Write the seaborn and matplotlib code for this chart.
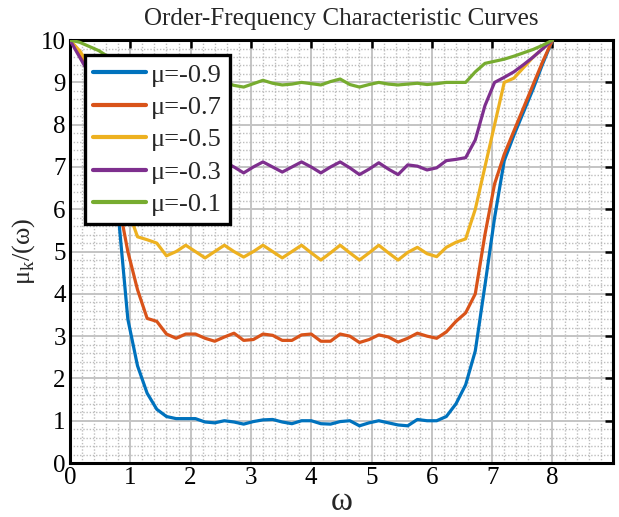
import numpy as np
import pandas as pd
import matplotlib
matplotlib.use("Agg")
import matplotlib.pyplot as plt
from matplotlib.ticker import MultipleLocator
import seaborn as sns

# frequency grid (step 0.16 from 0 to 8)
omega = np.round(np.arange(51) * 0.16, 2)

mu_labels = ["μ=-0.9", "μ=-0.7", "μ=-0.5", "μ=-0.3", "μ=-0.1"]
colors = ["#0072BD", "#D95319", "#EDB120", "#7E2F8E", "#77AC30"]

order_m09 = [10, 9.7, 9.2, 8.5, 7.5, 5.9, 3.4, 2.3, 1.65, 1.27, 1.1,
             1.05, 1.05, 1.05, 0.97, 0.95, 1.0, 0.97, 0.92, 0.98, 1.02,
             1.03, 0.97, 0.93, 1.0, 1.0, 0.93, 0.92, 0.98, 1.0, 0.88,
             0.95, 1.0, 0.95, 0.9, 0.88, 1.03, 1.0, 1.0, 1.1, 1.4,
             1.85, 2.65, 4.2, 5.8, 7.15, 7.75, 8.3, 8.85, 9.45, 10]
order_m07 = [10, 9.7, 9.2, 8.6, 7.8, 6.2, 5.0, 4.1, 3.42, 3.35, 3.05,
             2.95, 3.05, 3.05, 2.95, 2.88, 2.98, 3.07, 2.9, 2.92, 3.05,
             3.02, 2.9, 2.9, 3.03, 3.05, 2.88, 2.88, 3.05, 3.0, 2.85,
             2.92, 3.03, 2.98, 2.86, 2.95, 3.07, 3.0, 2.95, 3.1, 3.35,
             3.55, 4.0, 5.4, 6.6, 7.3, 7.85, 8.4, 8.95, 9.5, 10]
order_m05 = [10, 9.75, 9.4, 9.0, 8.3, 7.3, 6.0, 5.35, 5.28, 5.2, 4.9,
             5.0, 5.15, 5.0, 4.85, 5.0, 5.15, 5.0, 4.87, 5.0, 5.15,
             5.0, 4.85, 5.0, 5.15, 4.97, 4.8, 4.97, 5.15, 4.97, 4.8,
             4.97, 5.15, 4.97, 4.8, 4.98, 5.1, 4.95, 4.88, 5.1, 5.22,
             5.3, 6.0, 7.0, 8.0, 9.0, 9.1, 9.35, 9.6, 9.8, 10]
order_m03 = [10, 9.6, 9.2, 8.8, 8.3, 7.8, 7.4, 7.2, 7.1, 7.05, 6.9,
             7.0, 7.12, 7.0, 6.88, 7.0, 7.12, 7.0, 6.86, 7.0, 7.12,
             7.0, 6.88, 7.0, 7.12, 7.0, 6.86, 7.0, 7.12, 6.98, 6.82,
             6.95, 7.1, 6.95, 6.82, 7.05, 7.02, 6.93, 6.98, 7.15, 7.18,
             7.22, 7.64, 8.45, 9.0, 9.12, 9.25, 9.42, 9.6, 9.8, 10]
order_m01 = [10, 9.95, 9.85, 9.75, 9.6, 9.45, 9.3, 9.15, 9.05, 9.0, 8.9,
             8.95, 9.05, 8.97, 8.9, 8.95, 9.0, 8.93, 8.89, 8.97, 9.05,
             8.98, 8.94, 8.96, 9.0, 8.97, 8.94, 9.02, 9.08, 8.95, 8.89,
             8.95, 9.0, 8.96, 8.94, 8.96, 8.98, 8.95, 8.97, 9.0, 9.0,
             9.0, 9.25, 9.45, 9.5, 9.55, 9.62, 9.7, 9.78, 9.88, 10]

series = [order_m09, order_m07, order_m05, order_m03, order_m01]
df = pd.concat(
    [pd.DataFrame({"omega": omega, "order": vals, "mu": lab})
     for lab, vals in zip(mu_labels, series)],
    ignore_index=True,
)

sns.set_theme(style="white")
plt.rcParams["font.family"] = ["Liberation Serif", "DejaVu Serif"]
plt.rcParams["axes.unicode_minus"] = False

fig = plt.figure(figsize=(6.19, 5.17), dpi=100)
ax = fig.add_axes([0.113, 0.1044, 0.877, 0.818])

sns.lineplot(data=df, x="omega", y="order", hue="mu", hue_order=mu_labels,
             palette=colors, linewidth=2.3, sort=False, estimator=None,
             ax=ax, zorder=3)

ax.set_xlim(0, 9)
ax.set_ylim(0, 10)
ax.xaxis.set_major_locator(MultipleLocator(1))
ax.yaxis.set_major_locator(MultipleLocator(1))
ax.xaxis.set_minor_locator(MultipleLocator(0.2))
ax.yaxis.set_minor_locator(MultipleLocator(0.2))
ax.set_xticks(range(0, 9))

ax.grid(True, which="major", color="#c4c4c4", linewidth=1.4, zorder=0)
ax.grid(True, which="minor", color="#bdbdbd", linewidth=1.0,
        linestyle=(0, (1, 1.3)), zorder=0)
ax.set_axisbelow(True)

ax.tick_params(which="major", direction="in", length=6, width=1.8,
               top=True, right=True, labelsize=18, colors="black", pad=3)
ax.tick_params(which="minor", length=0)
for s in ax.spines.values():
    s.set_color("black")
    s.set_linewidth(2.2)

ax.set_title("Order-Frequency Characteristic Curves", fontsize=18, pad=11)
ax.set_xlabel("ω", fontsize=24, labelpad=-2)
ax.set_ylabel("μ$_\\mathregular{k}$/(ω)", fontsize=19, labelpad=3)

leg = ax.legend(loc="upper left", bbox_to_anchor=(0.0276, 0.9645),
                borderaxespad=0, fontsize=19, frameon=True, fancybox=False,
                framealpha=1, edgecolor="black", handlelength=2.0,
                handletextpad=0.2, labelspacing=0.34, borderpad=0.3,
                title=None)
leg.get_frame().set_linewidth(2.4)
for line in leg.get_lines():
    line.set_linewidth(3.0)

fig.savefig("out.png", dpi=100)
